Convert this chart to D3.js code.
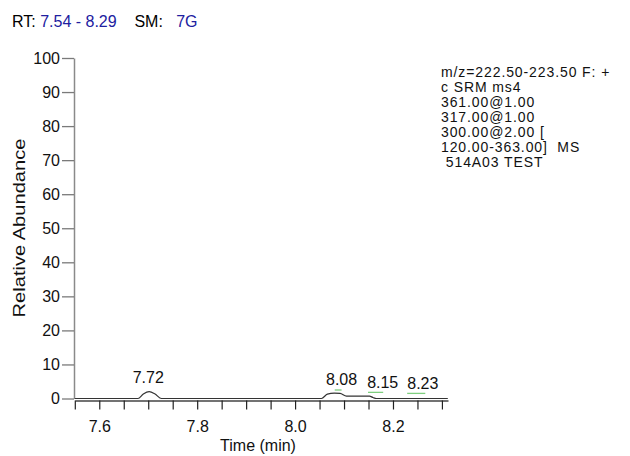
<!DOCTYPE html>
<html>
<head>
<meta charset="utf-8">
<script src="https://cdn.jsdelivr.net/npm/d3@7"></script>
<style>
  body { margin: 0; background: #fff; }
  svg text { font-family: "Liberation Sans", Arial, sans-serif; }
</style>
</head>
<body>
<svg id="chart" width="630" height="456"></svg>
<script>
// trace (time in min, relative abundance in %)
var traceTimes  = [7.550, 7.679, 7.690, 7.702, 7.714, 7.727, 8.054, 8.066, 8.080, 8.092, 8.105, 8.152, 8.159, 8.166, 8.312];
var traceValues = [0, 0, 1.3, 2.0, 1.3, 0, 0, 1.3, 1.6, 1.5, 0.7, 0.7, 0.3, 0, 0];

// peak labels
var peakLabels = ["7.72", "8.08", "8.15", "8.23"];
var peakLabelTimes = [7.700, 8.095, 8.179, 8.261];
var peakLabelLevels = [4.5, 4.0, 3.0, 2.7];

// green peak markers
var markerStarts = [8.081, 8.149, 8.229];
var markerEnds   = [8.095, 8.180, 8.266];
var markerLevels = [2.5, 1.8, 1.5];

var yTicks = [0, 10, 20, 30, 40, 50, 60, 70, 80, 90, 100];
var xMajorTicks = [7.6, 7.8, 8.0, 8.2];
var xMinorTicks = [7.55, 7.6, 7.65, 7.7, 7.75, 7.8, 7.85, 7.9, 7.95, 8.0, 8.05, 8.1, 8.15, 8.2, 8.25, 8.3];

var headerParts = [["RT: ", "#000"], ["7.54 - 8.29", "#2020a0"], ["    SM:   ", "#000"], ["7G", "#2020a0"]];
var infoLines = ["m/z=222.50-223.50 F: +", "c SRM ms4", "361.00@1.00", "317.00@1.00",
                 "300.00@2.00 [", "120.00-363.00]  MS", " 514A03 TEST"];

var svg = d3.select("#chart");

var x = d3.scaleLinear().domain([7.5504, 8.3124]).range([75, 448]);
var y = d3.scaleLinear().domain([0, 100]).range([398.5, 58]);

// header
var header = svg.append("text")
    .attr("x", 12)
    .attr("y", 27)
    .style("font-size", "16px")
    .attr("xml:space", "preserve");
header.selectAll("tspan")
    .data(headerParts)
    .enter().append("tspan")
    .attr("fill", function(d) { return d[1]; })
    .text(function(d) { return d[0]; });

// y axis
var yAxis = d3.axisLeft(y)
    .tickValues(yTicks)
    .tickSize(12)
    .tickSizeOuter(0)
    .tickPadding(2);

var gy = svg.append("g")
    .attr("transform", "translate(74,0)")
    .call(yAxis);
gy.select(".domain").attr("stroke", "#8a8a8a").attr("stroke-width", 1.5);
gy.selectAll(".tick line").attr("stroke", "#7a7a7a").attr("stroke-width", 1.3);
gy.selectAll(".tick text")
    .style("font-size", "16px")
    .attr("fill", "#111");

// x axis
var xAxis = d3.axisBottom(x)
    .tickValues(xMinorTicks)
    .tickSize(9)
    .tickSizeOuter(0)
    .tickFormat(function(d) {
        return xMajorTicks.some(function(m) { return Math.abs(m - d) < 1e-6; }) ? d.toFixed(1) : "";
    });

var gx = svg.append("g")
    .attr("transform", "translate(0,400.5)")
    .call(xAxis);
gx.select(".domain").attr("stroke", "#444").attr("stroke-width", 1.5);
gx.selectAll(".tick line").attr("stroke", "#222").attr("stroke-width", 1.2);
gx.selectAll(".tick text")
    .style("font-size", "16px")
    .attr("fill", "#111")
    .attr("y", 31)
    .attr("dy", 0);

// axis titles
svg.append("text")
    .attr("x", 258)
    .attr("y", 451)
    .attr("text-anchor", "middle")
    .style("font-size", "16px")
    .attr("fill", "#111")
    .text("Time (min)");

svg.append("text")
    .attr("transform", "translate(25,228) rotate(-90)")
    .attr("text-anchor", "middle")
    .style("font-size", "17px")
    .attr("textLength", 179)
    .attr("lengthAdjust", "spacingAndGlyphs")
    .attr("fill", "#111")
    .text("Relative Abundance");

// trace
var line = d3.line()
    .x(function(d) { return x(d[0]); })
    .y(function(d) { return y(d[1]); })
    .curve(d3.curveMonotoneX);

svg.append("path")
    .datum(d3.zip(traceTimes, traceValues))
    .attr("fill", "none")
    .attr("stroke", "#333")
    .attr("stroke-width", 1.2)
    .attr("d", line);

// green markers
svg.selectAll(".marker")
    .data(d3.range(markerStarts.length))
    .enter().append("line")
    .attr("class", "marker")
    .attr("x1", function(i) { return x(markerStarts[i]); })
    .attr("x2", function(i) { return x(markerEnds[i]); })
    .attr("y1", function(i) { return y(markerLevels[i]); })
    .attr("y2", function(i) { return y(markerLevels[i]); })
    .attr("stroke", "#7fcf7f")
    .attr("stroke-width", 1.3);

// peak labels
svg.selectAll(".peak")
    .data(d3.range(peakLabels.length))
    .enter().append("text")
    .attr("class", "peak")
    .attr("x", function(i) { return x(peakLabelTimes[i]); })
    .attr("y", function(i) { return y(peakLabelLevels[i]); })
    .attr("text-anchor", "middle")
    .style("font-size", "16px")
    .attr("fill", "#111")
    .text(function(i) { return peakLabels[i]; });

// info block
svg.append("g").selectAll("text")
    .data(infoLines)
    .enter().append("text")
    .attr("x", 441)
    .attr("y", function(d, i) { return 77 + i * 15; })
    .attr("xml:space", "preserve")
    .style("font-size", "14px")
    .style("letter-spacing", "0.9px")
    .attr("fill", "#111")
    .text(function(d) { return d; });
</script>
</body>
</html>
